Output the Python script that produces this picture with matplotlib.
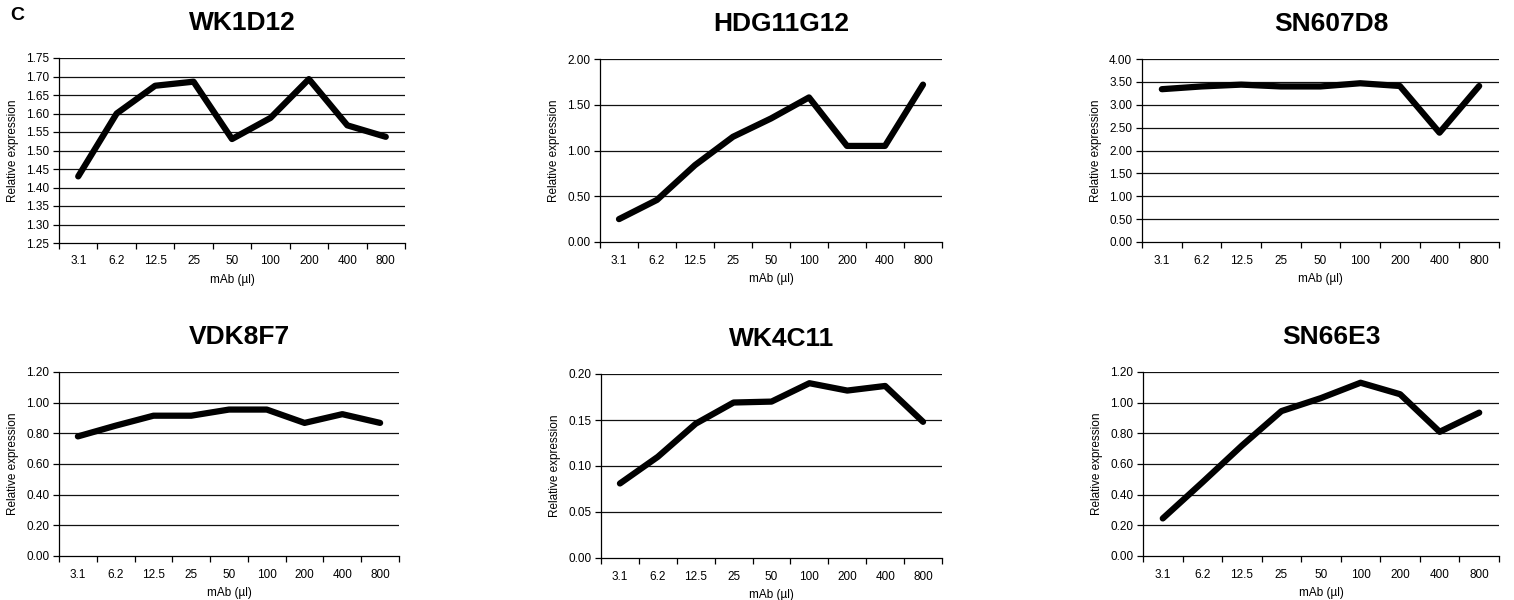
import numpy as np
import matplotlib
matplotlib.use('Agg')
import matplotlib.pyplot as plt

plt.rcParams['font.family'] = ['Liberation Sans', 'DejaVu Sans']

# Data
doses = ['3.1', '6.2', '12.5', '25', '50', '100', '200', '400', '800']

titles = ['WK1D12', 'HDG11G12', 'SN607D8', 'VDK8F7', 'WK4C11', 'SN66E3']

wk1d12 = [1.43, 1.60, 1.675, 1.686, 1.531, 1.588, 1.693, 1.568, 1.537]
hdg11g12 = [0.25, 0.46, 0.84, 1.15, 1.35, 1.58, 1.05, 1.05, 1.72]
sn607d8 = [3.34, 3.40, 3.44, 3.40, 3.40, 3.47, 3.41, 2.39, 3.41]
vdk8f7 = [0.78, 0.85, 0.915, 0.915, 0.955, 0.955, 0.868, 0.925, 0.868]
wk4c11 = [0.081, 0.110, 0.146, 0.169, 0.170, 0.190, 0.182, 0.187, 0.148]
sn66e3 = [0.245, 0.48, 0.72, 0.945, 1.03, 1.13, 1.055, 0.81, 0.935]

series = [wk1d12, hdg11g12, sn607d8, vdk8f7, wk4c11, sn66e3]

# y axis ranges and ticks per panel
y_ticks = [
    np.round(np.arange(1.25, 1.751, 0.05), 2),
    np.arange(0, 2.01, 0.5),
    np.arange(0, 4.01, 0.5),
    np.round(np.arange(0, 1.21, 0.2), 2),
    np.round(np.arange(0, 0.201, 0.05), 2),
    np.round(np.arange(0, 1.21, 0.2), 2),
]

# axes boxes in pixels: left, right, top, bottom
W, H = 1514, 600
boxes = [
    (59, 405, 58, 243),
    (600, 942, 59, 242),
    (1142, 1499, 59, 242),
    (59, 399, 372, 556),
    (601, 942, 374, 558),
    (1143, 1499, 372, 556),
]

fig = plt.figure(figsize=(W / 100, H / 100), dpi=100)
fig.patch.set_facecolor('white')

x = np.arange(len(doses))
for vals, title, ticks, (l, r, t, b) in zip(series, titles, y_ticks, boxes):
    ax = fig.add_axes([l / W, 1 - b / H, (r - l) / W, (b - t) / H])
    ax.plot(x, vals, color='black', lw=4.5, solid_capstyle='round', zorder=3)
    ax.set_xlim(-0.5, len(doses) - 0.5)
    ax.set_ylim(ticks[0], ticks[-1])
    ax.set_yticks(ticks)
    ax.set_yticklabels([f'{v:.2f}' for v in ticks], fontsize=8.5)
    ax.set_xticks(x)
    ax.set_xticklabels(doses, fontsize=8.5)
    ax.set_xticks(np.arange(-0.5, len(doses)), minor=True)
    ax.tick_params(axis='x', which='major', length=0, pad=9)
    ax.tick_params(axis='x', which='minor', length=4, width=0.9, direction='out')
    ax.tick_params(axis='y', length=4, width=0.9, pad=3)
    for tk in ticks[1:]:
        ax.axhline(tk, color='#111111', lw=0.9, zorder=1)
    for side in ['top', 'right']:
        ax.spines[side].set_visible(False)
    for side in ['left', 'bottom']:
        ax.spines[side].set_linewidth(0.9)
    ax.set_xlabel('mAb (µl)', fontsize=8.5, labelpad=5)
    ax.set_ylabel('Relative expression', fontsize=8.5, labelpad=5)
    ax.set_title(title, fontsize=19, fontweight='bold', x=0.53, pad=20)

fig.text(10 / W, 1 - 15 / H, 'C', fontsize=14, fontweight='bold', va='center', ha='left')

fig.savefig('out.png', dpi=100, facecolor='white')
plt.close(fig)
